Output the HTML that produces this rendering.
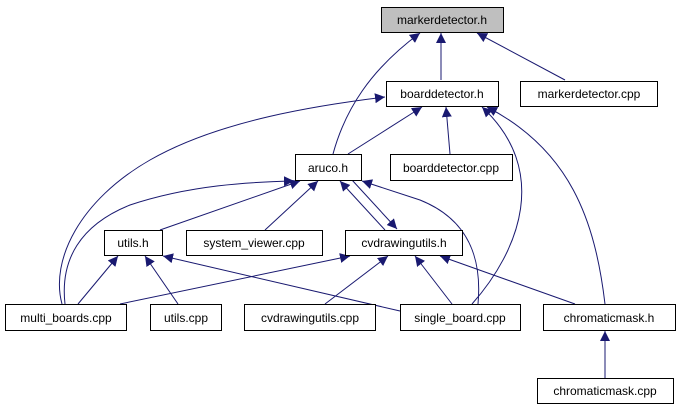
<!DOCTYPE html>
<html><head><style>body{margin:0;background:#fff}svg{display:block}</style></head><body>
<svg width="676" height="411" viewBox="0 0 676 411" xmlns="http://www.w3.org/2000/svg" font-family="Liberation Sans, sans-serif" font-size="12">
<defs><marker id="a" viewBox="0 0 10 10" refX="10" refY="5" markerWidth="10" markerHeight="10" markerUnits="userSpaceOnUse" orient="auto"><path d="M0,0 L10,5 L0,10 z" fill="#191970"/></marker></defs>
<g fill="none" stroke="#191970" stroke-width="1" marker-end="url(#a)">
<path d="M441,80 L441,33"/>
<path d="M565,80 L477,33"/>
<path d="M333,154 C345,110 370,70 420,33"/>
<path d="M348,154 L422,107"/>
<path d="M450,154 L446,107"/>
<path d="M62,304 C50,260 80,200 150,160 C220,120 320,105 385,97"/>
<path d="M472,304 C520,250 550,170 482,107"/>
<path d="M605,304 C595,220 570,150 487,107"/>
<path d="M160,230 L300,181"/>
<path d="M265,230 L318,181"/>
<path d="M385,230 L340,181"/>
<path d="M352,180 L397,229"/>
<path d="M65,304 C60,260 80,225 130,205 C190,185 250,182 294,181"/>
<path d="M478,304 C482,260 470,220 420,200 L362,181"/>
<path d="M78,304 L118,256"/>
<path d="M178,304 L145,256"/>
<path d="M400,311 L163,256"/>
<path d="M120,304 L350,256"/>
<path d="M325,304 L388,256"/>
<path d="M452,304 L415,256"/>
<path d="M575,304 L440,256"/>
<path d="M605,378 L605,331"/>
</g>
<g stroke="#000" stroke-width="1">
<rect x="381.5" y="7.5" width="122" height="25" fill="#bfbfbf"/>
<rect x="386.5" y="81.5" width="112" height="25" fill="#fff"/>
<rect x="520.5" y="81.5" width="137" height="25" fill="#fff"/>
<rect x="295.5" y="154.5" width="66" height="26" fill="#fff"/>
<rect x="390.5" y="154.5" width="122" height="26" fill="#fff"/>
<rect x="104.5" y="230.5" width="58" height="25" fill="#fff"/>
<rect x="186.5" y="230.5" width="136" height="25" fill="#fff"/>
<rect x="345.5" y="230.5" width="117" height="25" fill="#fff"/>
<rect x="5.5" y="304.5" width="121" height="26" fill="#fff"/>
<rect x="150.5" y="304.5" width="71" height="26" fill="#fff"/>
<rect x="244.5" y="304.5" width="131" height="26" fill="#fff"/>
<rect x="400.5" y="304.5" width="120" height="26" fill="#fff"/>
<rect x="543.5" y="304.5" width="132" height="26" fill="#fff"/>
<rect x="537.5" y="378.5" width="136" height="25" fill="#fff"/>
</g>
<g fill="#000" text-anchor="middle">
<text x="442" y="24">markerdetector.h</text>
<text x="442" y="98">boarddetector.h</text>
<text x="589" y="98">markerdetector.cpp</text>
<text x="328" y="172">aruco.h</text>
<text x="451" y="172">boarddetector.cpp</text>
<text x="133" y="247">utils.h</text>
<text x="254" y="247">system_viewer.cpp</text>
<text x="404" y="247">cvdrawingutils.h</text>
<text x="66" y="322">multi_boards.cpp</text>
<text x="186" y="322">utils.cpp</text>
<text x="310" y="322">cvdrawingutils.cpp</text>
<text x="460" y="322">single_board.cpp</text>
<text x="609" y="322">chromaticmask.h</text>
<text x="605" y="395">chromaticmask.cpp</text>
</g>
</svg>
</body></html>
